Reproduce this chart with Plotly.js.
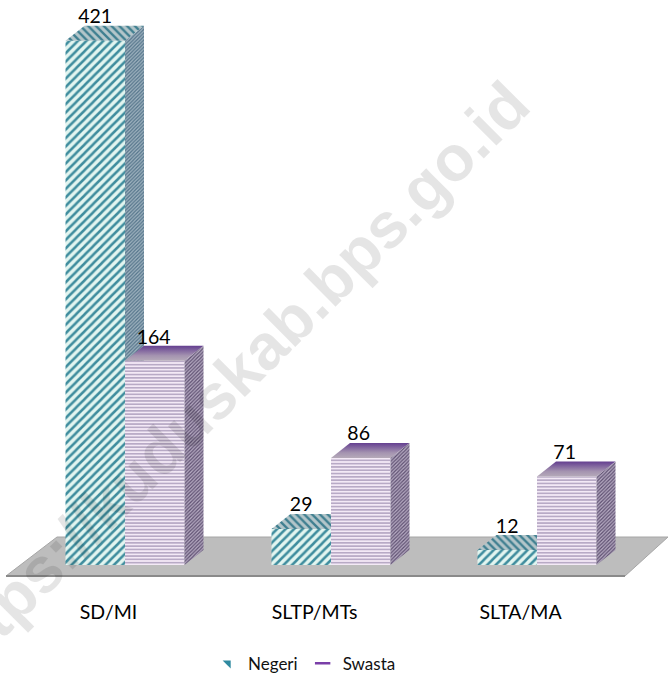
<!DOCTYPE html>
<html><head><meta charset="utf-8">
<script src="https://cdn.plot.ly/plotly-3.0.1.min.js"></script>
<style>html,body{margin:0;padding:0;background:#fff}#c{width:668px;height:676px}</style>
</head><body><div id="c"></div>
<script>
const categories = ['SD/MI', 'SLTP/MTs', 'SLTA/MA'];
const negeri = [421, 29, 12];
const swasta = [164, 86, 71];
const seriesNames = ['Negeri', 'Swasta'];
const watermark = 'https://kuduskab.bps.go.id';
const nudgeXpx = [-2, -3, -2, -4, -2, -4];
const nudgeYpx = [2, 3, 2, 2, 3, 2];

const W = 668, H = 676, plotH = 595;
const pxPerCat = 206, pxPerUnit = 1.245, x0px = 125, y0px = 565;
const bw = 59.5 / pxPerCat, depthX = 19 / pxPerCat, depthY = 15 / pxPerUnit;
const xr = [-x0px / pxPerCat, (W - x0px) / pxPerCat];
const yr = [(y0px - plotH) / pxPerUnit, y0px / pxPerUnit];
const pos = categories.map((_, i) => i);
const labelFont = {family: 'Lato, sans-serif', size: 19.5, color: '#000'};

function bar(name, vals, off, fg, bg, size, sol, shape, xa, ya) {
  return {type: 'bar', name, x: pos, y: vals, width: bw, offset: off, xaxis: xa, yaxis: ya, showlegend: false,
    marker: {color: bg, line: {width: 0}, pattern: {shape, fgcolor: fg, bgcolor: bg, size, solidity: sol}},
    hoverinfo: 'skip'};
}
function poly(xs, ys, extra, xa, ya) {
  return Object.assign({type: 'scatter', mode: 'lines', x: xs.concat(xs[0]), y: ys.concat(ys[0]), fill: 'toself',
    line: {width: 0, color: 'rgba(0,0,0,0)'}, showlegend: false, hoverinfo: 'skip', xaxis: xa, yaxis: ya}, extra);
}
const traces = [];
traces.push(bar(seriesNames[0], negeri, -bw, '#3f8d9e', '#e2f5f0', 6, 0.42, '/', 'x', 'y'));
pos.forEach(i => {
  const l = i - bw, r = i, v = negeri[i], t = v + depthY;
  traces.push(poly([l, l + depthX, r + depthX, r], [v, t, t, v],
    {fillcolor: '#b4c6ca', fillpattern: {shape: '\\', fgcolor: '#3f7f90', bgcolor: '#b4c6ca', size: 5.5, solidity: 0.42}}, 'x', 'y'));
  traces.push(poly([r, r + depthX, r + depthX, r], [v, t, depthY, 0],
    {fillcolor: '#a3b6c2', fillpattern: {shape: '/', fgcolor: '#54748a', bgcolor: '#a3b6c2', size: 2.5, solidity: 0.5}}, 'x', 'y'));
});
traces.push(bar(seriesNames[1], swasta, 0, '#9a89ae', '#f3e9f6', 3.3, 0.33, '-', 'x2', 'y2'));
pos.forEach(i => {
  const l = i, r = i + bw, v = swasta[i], t = v + depthY;
  traces.push(poly([l, l + depthX, r + depthX, r], [v, t, t, v],
    {fillcolor: '#8a6fa8', fillgradient: {type: 'vertical', colorscale: [[0, '#b5aab9'], [0.35, '#a493b0'], [1, '#643f90']]}}, 'x2', 'y2'));
  traces.push(poly([r, r + depthX, r + depthX, r], [v, t, depthY, 0],
    {fillcolor: '#b9aec5', fillpattern: {shape: '/', fgcolor: '#5f5172', bgcolor: '#b9aec5', size: 2.5, solidity: 0.5}}, 'x2', 'y2'));
});
const lblX = [], lblY = [], lblT = [];
pos.forEach(i => {
  const k = i * 2;
  lblX.push(i - bw / 2 + depthX * 0.1 + nudgeXpx[k] / pxPerCat); lblY.push(negeri[i] + depthY - nudgeYpx[k] / pxPerUnit); lblT.push(String(negeri[i]));
  lblX.push(i + bw / 2 + depthX * 0.1 + nudgeXpx[k + 1] / pxPerCat); lblY.push(swasta[i] + depthY - nudgeYpx[k + 1] / pxPerUnit); lblT.push(String(swasta[i]));
});
traces.push({type: 'scatter', mode: 'text', x: lblX, y: lblY, text: lblT, textposition: 'top center',
  textfont: labelFont, showlegend: false, hoverinfo: 'skip', cliponaxis: false, xaxis: 'x2', yaxis: 'y2'});
traces.push({type: 'scatter', mode: 'markers', name: seriesNames[0], x: [null], y: [null], xaxis: 'x2', yaxis: 'y2',
  marker: {symbol: 'triangle-ne', size: 9, color: '#2f8aa0'}});
traces.push({type: 'scatter', mode: 'markers', name: seriesNames[1], x: [null], y: [null], xaxis: 'x2', yaxis: 'y2',
  marker: {symbol: 'line-ew', size: 11, color: '#7a3fa8', line: {width: 2.5, color: '#7a3fa8'}}});

const fx = px => (px - x0px) / pxPerCat, fy = py => (y0px - py) / pxPerUnit;
const floorPts = [[6, 576], [57, 537], [668, 537], [625, 576]].map(p => [fx(p[0]), fy(p[1])]);
const floorPath = 'M' + floorPts.map(p => p.join(',')).join('L') + 'Z';
const layout = {
  width: W, height: H, margin: {l: 0, r: 0, t: 0, b: H - plotH, pad: 0, autoexpand: false},
  paper_bgcolor: '#fff', plot_bgcolor: 'rgba(0,0,0,0)', showlegend: true,
  legend: {orientation: 'h', x: 208 / W, xanchor: 'left', y: -0.085, yanchor: 'top', font: {family: 'Lato, sans-serif', size: 17, color: '#111'}, traceorder: 'normal'},
  xaxis: {range: xr, tickvals: pos.map(p => p - 0.08), ticktext: categories, ticks: '', ticklabelstandoff: 3, showgrid: false, zeroline: false, showline: false, tickfont: labelFont, fixedrange: true, automargin: false},
  yaxis: {range: yr, visible: false, fixedrange: true},
  xaxis2: {range: xr, overlaying: 'x', visible: false, fixedrange: true},
  yaxis2: {range: yr, overlaying: 'y', visible: false, fixedrange: true},
  shapes: [
    {type: 'path', path: floorPath, xref: 'x', yref: 'y', layer: 'below', fillcolor: '#bdbdbd', line: {color: '#a6a6a6', width: 1}},
    {type: 'line', x0: floorPts[0][0], y0: floorPts[0][1], x1: floorPts[3][0], y1: floorPts[3][1], xref: 'x', yref: 'y', layer: 'below', line: {color: '#8a8a8a', width: 2}}
  ],
  annotations: [{text: watermark, xref: 'paper', yref: 'paper', x: 230 / W, y: 1 - 381 / plotH, showarrow: false, textangle: -45,
    font: {family: 'Liberation Sans, Arial, sans-serif', size: 64, color: 'rgba(0,0,0,0.10)', weight: 700}}]
};
Plotly.newPlot('c', traces, layout, {displayModeBar: false, staticPlot: true});
</script></body></html>
